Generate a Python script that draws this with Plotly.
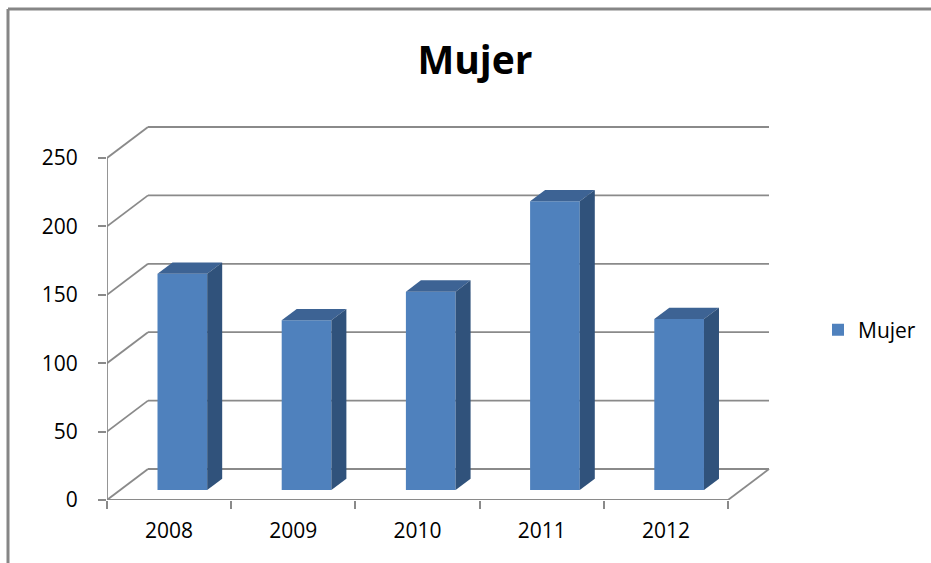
import plotly.graph_objects as go

# ---- data ----
years = ["2008", "2009", "2010", "2011", "2012"]
values = [158, 124, 145, 211, 125]
y_ticks = [0, 50, 100, 150, 200, 250]
series_name = "Mujer"
title_text = "Mujer"

# ---- geometry (pixels of the page) ----
W, H = 931, 563
L, R, T, B = 107, 773, 126, 500          # plot area in px
n = len(years)
px_per_cat = (728 - L) / n
px_per_unit = 1.368
x0, x1 = -0.5, n - 0.5
xmax = x0 + (R - L) / px_per_cat
ymax = (B - T) / px_per_unit
DX = 41 / px_per_cat                      # depth offset of back wall (x, category units)
DY = 31 / px_per_unit                     # depth offset of back wall (y, value units)
bar_w = 0.40
f_front = 0.323                           # depth fraction of bar front face
f_depth = 0.366                           # depth fraction of bar thickness

front_c = "#4f81bd"
top_c = "#3d6394"
side_c = "#30527b"
grid_c = "#8a8a8a"

fig = go.Figure()

# front faces (real bars)
bx = [i + f_front * DX for i in range(n)]
base = f_front * DY
fig.add_trace(go.Bar(
    x=bx, y=values, base=base, width=bar_w, name=series_name,
    marker=dict(color=front_c, line=dict(width=0)), showlegend=True,
    hoverinfo="skip",
))

sdx, sdy = f_depth * DX, f_depth * DY
for i, v in enumerate(values):
    xl = bx[i] - bar_w / 2
    xr = bx[i] + bar_w / 2
    yt = base + v
    fig.add_trace(go.Scatter(
        x=[xl, xr, xr + sdx, xl + sdx, xl], y=[yt, yt, yt + sdy, yt + sdy, yt],
        mode="lines", fill="toself", fillcolor=top_c, line=dict(width=0),
        showlegend=False, hoverinfo="skip"))
    fig.add_trace(go.Scatter(
        x=[xr, xr + sdx, xr + sdx, xr, xr], y=[base, base + sdy, yt + sdy, yt, base],
        mode="lines", fill="toself", fillcolor=side_c, line=dict(width=0),
        showlegend=False, hoverinfo="skip"))

shapes = []
def seg(xa, ya, xb, yb, w=1.8, c=grid_c, layer="below"):
    shapes.append(dict(type="line", xref="x", yref="y", x0=xa, y0=ya, x1=xb, y1=yb,
                       line=dict(color=c, width=w), layer=layer))

# back-wall gridlines + diagonals
for v in y_ticks:
    seg(x0, v, x0 + DX, v + DY)
    seg(x0 + DX, v + DY, x1 + DX, v + DY)
# floor
seg(x0, 0, x1, 0)
seg(x1, 0, x1 + DX, DY)
# front vertical axis
seg(x0, 0, x0, y_ticks[-1])

# chart border (top + left)
bx_p = (8 - L) / (R - L)
by_p = (B - 9) / (B - T)
shapes.append(dict(type="line", xref="paper", yref="paper", x0=bx_p, y0=by_p, x1=2, y1=by_p,
                   line=dict(color="#868686", width=3)))
shapes.append(dict(type="line", xref="paper", yref="paper", x0=bx_p, y0=by_p, x1=bx_p, y1=-1,
                   line=dict(color="#868686", width=3)))

font_family = "'Open Sans', Lato, sans-serif"

fig.update_layout(
    width=W, height=H,
    margin=dict(l=L, r=W - R, t=T, b=H - B, pad=0, autoexpand=False),
    paper_bgcolor="white", plot_bgcolor="white",
    shapes=shapes,
    showlegend=True,
    barmode="overlay",
    title=dict(text=f"<b>{title_text}</b>", x=475 / W, xref="container", xanchor="center",
               y=1 - 60 / H, yref="container", yanchor="middle",
               font=dict(family=font_family, size=39, color="black")),
    legend=dict(x=(818 - L) / (R - L), xanchor="left", y=(B - 330) / (B - T), yanchor="middle",
                font=dict(family=font_family, size=21, color="black"),
                bgcolor="rgba(0,0,0,0)", itemwidth=30),
    font=dict(family=font_family, color="black"),
    xaxis=dict(range=[x0, xmax], tickvals=list(range(n)), ticktext=years, ticks="",
               showgrid=False, zeroline=False, showline=False, automargin=False,
               tickfont=dict(size=21, color="black"), ticklabelstandoff=16,
               minor=dict(tickvals=[x0 + k for k in range(n + 1)], ticks="outside",
                          ticklen=8, tickwidth=1.5, tickcolor=grid_c, showgrid=False),
               fixedrange=True),
    yaxis=dict(range=[0, ymax], tickvals=y_ticks, ticks="outside", ticklen=8,
               tickwidth=1.5, tickcolor=grid_c, showgrid=False, zeroline=False,
               showline=False, tickfont=dict(size=21, color="black"), automargin=False,
               ticklabelstandoff=16, fixedrange=True),
)

fig.write_html("out.html", config={"displayModeBar": False},
               post_script="document.body.style.margin='0';")
